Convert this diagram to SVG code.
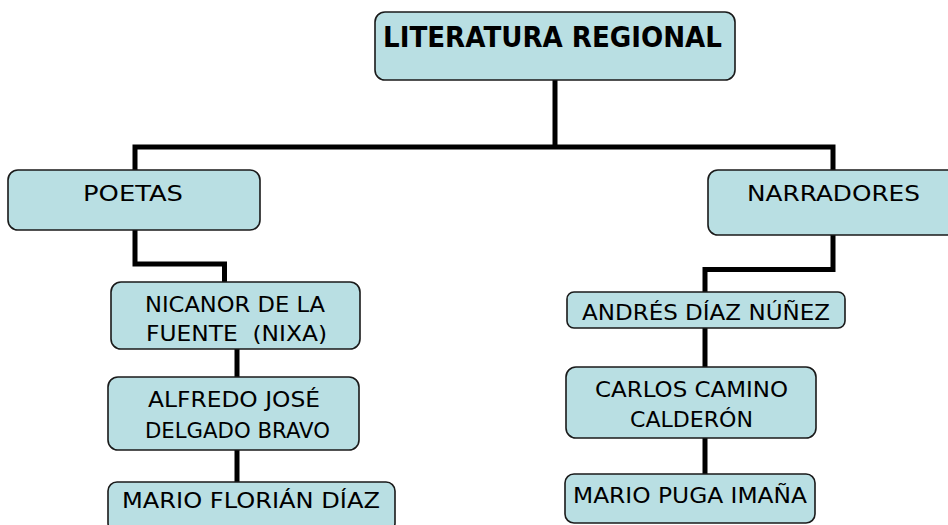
<svg xmlns="http://www.w3.org/2000/svg" width="948" height="525" viewBox="0 0 948 525">
<style>
.box{fill:#b9dfe3;stroke:#1a1a1a;stroke-width:1.6}
.t{font-family:"Comic Sans MS","DejaVu Sans",sans-serif;font-size:22px;fill:#000;text-anchor:middle}
.b{font-weight:bold;font-size:28px}
.c{fill:none;stroke:#000;stroke-width:5}
</style>
<rect width="948" height="525" fill="#fff"/>
<g id="connectors">
<path class="c" d="M555,80 V147"/>
<path class="c" d="M135,170 V147 H833 V170"/>
<path class="c" d="M135,230 V264 H224.5 V282"/>
<path class="c" d="M833,235 V269.5 H705 V292"/>
<path class="c" d="M705,328 V367"/>
<path class="c" d="M705,438 V474"/>
<path class="c" d="M237,349 V377"/>
<path class="c" d="M237,450 V482"/>
</g>
<g id="literatura">
<rect class="box" x="375" y="12" width="360" height="68" rx="10"/>
<text class="t b" x="552.5" y="47" textLength="339" lengthAdjust="spacingAndGlyphs">LITERATURA REGIONAL</text>
</g>
<g id="poetas">
<rect class="box" x="8" y="170" width="252" height="60" rx="10"/>
<text class="t" x="133" y="201" font-size="23" textLength="100" lengthAdjust="spacingAndGlyphs">POETAS</text>
</g>
<g id="narradores">
<rect class="box" x="708" y="170" width="250" height="65" rx="10"/>
<text class="t" x="833.5" y="201" font-size="23" textLength="173" lengthAdjust="spacingAndGlyphs">NARRADORES</text>
</g>
<g id="nicanor">
<rect class="box" x="111" y="282" width="249" height="67" rx="10"/>
<text class="t" x="235" y="312" textLength="180" lengthAdjust="spacingAndGlyphs">NICANOR DE LA</text>
<text class="t" x="236.5" y="341" textLength="181" lengthAdjust="spacingAndGlyphs" xml:space="preserve">FUENTE  (NIXA)</text>
</g>
<g id="alfredo">
<rect class="box" x="108" y="377" width="251" height="73" rx="10"/>
<text class="t" x="234" y="407" textLength="172" lengthAdjust="spacingAndGlyphs">ALFREDO JOSÉ</text>
<text class="t" x="237.5" y="438" textLength="185" lengthAdjust="spacingAndGlyphs">DELGADO BRAVO</text>
</g>
<g id="mario-florian">
<rect class="box" x="108" y="482" width="287" height="50" rx="9"/>
<text class="t" x="251" y="508" textLength="258" lengthAdjust="spacingAndGlyphs">MARIO FLORIÁN DÍAZ</text>
</g>
<g id="andres">
<rect class="box" x="567" y="292" width="278" height="36" rx="7"/>
<text class="t" x="706" y="320" textLength="248" lengthAdjust="spacingAndGlyphs">ANDRÉS DÍAZ NÚÑEZ</text>
</g>
<g id="carlos">
<rect class="box" x="566" y="367" width="250" height="71" rx="10"/>
<text class="t" x="691.5" y="397" textLength="193" lengthAdjust="spacingAndGlyphs">CARLOS CAMINO</text>
<text class="t" x="691.5" y="427" textLength="123" lengthAdjust="spacingAndGlyphs">CALDERÓN</text>
</g>
<g id="mario-puga">
<rect class="box" x="565" y="474" width="250" height="49" rx="9"/>
<text class="t" x="690" y="503" textLength="234" lengthAdjust="spacingAndGlyphs">MARIO PUGA IMAÑA</text>
</g>
</svg>
